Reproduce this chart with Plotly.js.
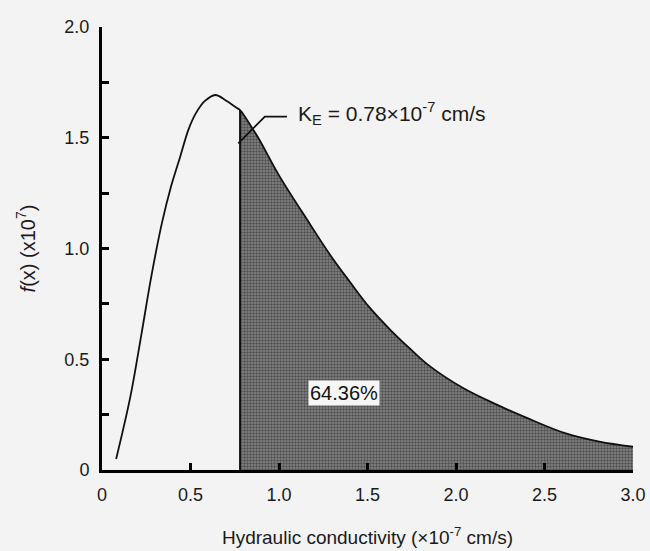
<!DOCTYPE html>
<html>
<head>
<meta charset="utf-8">
<script src="https://cdn.plot.ly/plotly-3.0.1.min.js"></script>
<style>html,body{margin:0;padding:0;background:#f3f3f3;}#chart{width:650px;height:551px;}</style>
</head>
<body>
<div id="chart"></div>
<script>
// Data
const KE = 0.78;
const xVals = [0.08, 0.16, 0.22, 0.28, 0.34, 0.39, 0.44, 0.49, 0.53, 0.58, 0.64, 0.70, 0.76, 0.78, 0.855, 0.89, 1.0, 1.175, 1.29, 1.40, 1.51, 1.63, 1.74, 1.85, 2.04, 2.23, 2.40, 2.62, 2.81, 3.0];
const yVals = [0.05, 0.33, 0.60, 0.88, 1.12, 1.28, 1.41, 1.54, 1.61, 1.665, 1.693, 1.668, 1.635, 1.625, 1.535, 1.49, 1.33, 1.11, 0.97, 0.85, 0.735, 0.632, 0.548, 0.47, 0.37, 0.295, 0.235, 0.165, 0.128, 0.105];
const xTickVals = [0, 0.5, 1.0, 1.5, 2.0, 2.5, 3.0];
const xTickText = ['0', '0.5', '1.0', '1.5', '2.0', '2.5', '3.0'];
const yTickVals = [0, 0.5, 1.0, 1.5, 2.0];
const yTickText = ['0', '0.5', '1.0', '1.5', '2.0'];
const shadedLabel = '64.36%';
const keLabel = 'K<sub>E</sub> = 0.78×10<sup>-7</sup> cm/s';
const leaderX = [KE - 0.01, KE + 0.14, KE + 0.265];
const leaderY = [1.475, 1.595, 1.595];

const shadeX = [], shadeY = [];
xVals.forEach((x, i) => { if (x >= KE) { shadeX.push(x); shadeY.push(yVals[i]); } });
const yAtKE = yVals[xVals.indexOf(KE)];

const font = "'Liberation Sans', Arial, Helvetica, sans-serif";
const txt = '#1a1a1a';

const traces = [
  {
    x: shadeX, y: shadeY, type: 'scatter', mode: 'lines', fill: 'tozeroy',
    line: {width: 0, color: 'rgba(0,0,0,0)', shape: 'spline', smoothing: 1},
    fillcolor: '#6c6c6c',
    fillpattern: {shape: '.', size: 3, solidity: 0.5, fgcolor: '#505050', bgcolor: '#878787'},
    hoverinfo: 'skip', showlegend: false
  },
  {
    x: [KE, KE], y: [0, yAtKE], type: 'scatter', mode: 'lines',
    line: {color: '#111', width: 2}, hoverinfo: 'skip', showlegend: false
  },
  {
    x: xVals, y: yVals, type: 'scatter', mode: 'lines',
    line: {color: '#111', width: 1.8, shape: 'spline', smoothing: 1}, showlegend: false
  },
  {
    x: leaderX, y: leaderY, type: 'scatter', mode: 'lines',
    line: {color: '#111', width: 1.8}, hoverinfo: 'skip', showlegend: false
  }
];

const layout = {
  width: 650, height: 551,
  margin: {l: 102, r: 17, t: 27, b: 81},
  paper_bgcolor: '#f3f3f3', plot_bgcolor: '#f3f3f3',
  font: {family: font, size: 18, color: txt},
  showlegend: false,
  xaxis: {
    range: [0, 3], showgrid: false, zeroline: false,
    showline: true, linecolor: '#000', linewidth: 3,
    ticks: 'inside', ticklen: 7, tickwidth: 3, tickcolor: '#000',
    tickvals: xTickVals, ticktext: xTickText, ticklabelstandoff: 6,
    tickfont: {family: font, size: 18, color: txt},
    title: {text: 'Hydraulic conductivity (×10<sup>-7</sup> cm/s)', font: {family: font, size: 19, color: txt}, standoff: 28}
  },
  yaxis: {
    range: [0, 2], showgrid: false, zeroline: false,
    showline: true, linecolor: '#000', linewidth: 3,
    ticks: 'inside', ticklen: 7, tickwidth: 3, tickcolor: '#000',
    tickvals: yTickVals, ticktext: yTickText, ticklabelstandoff: 6,
    tickfont: {family: font, size: 18, color: txt},
    minor: {dtick: 0.25, tick0: 0, ticks: 'inside', ticklen: 7, tickwidth: 3, tickcolor: '#000', showgrid: false},
    title: {text: '<i>f</i>(x) (x10<sup>7</sup>)', font: {family: font, size: 20, color: txt}, standoff: 24}
  },
  annotations: [
    {
      x: 1.095, y: 1.61, xref: 'x', yref: 'y', text: keLabel, showarrow: false,
      xanchor: 'left', yanchor: 'middle', font: {family: font, size: 21, color: txt}
    },
    {
      x: 1.367, y: 0.348, xref: 'x', yref: 'y', text: shadedLabel, showarrow: false,
      xanchor: 'center', yanchor: 'middle', bgcolor: '#f6f6f6', borderpad: 1,
      font: {family: font, size: 20, color: '#111'}
    }
  ]
};

Plotly.newPlot('chart', traces, layout, {displayModeBar: false, staticPlot: true});
</script>
</body>
</html>
